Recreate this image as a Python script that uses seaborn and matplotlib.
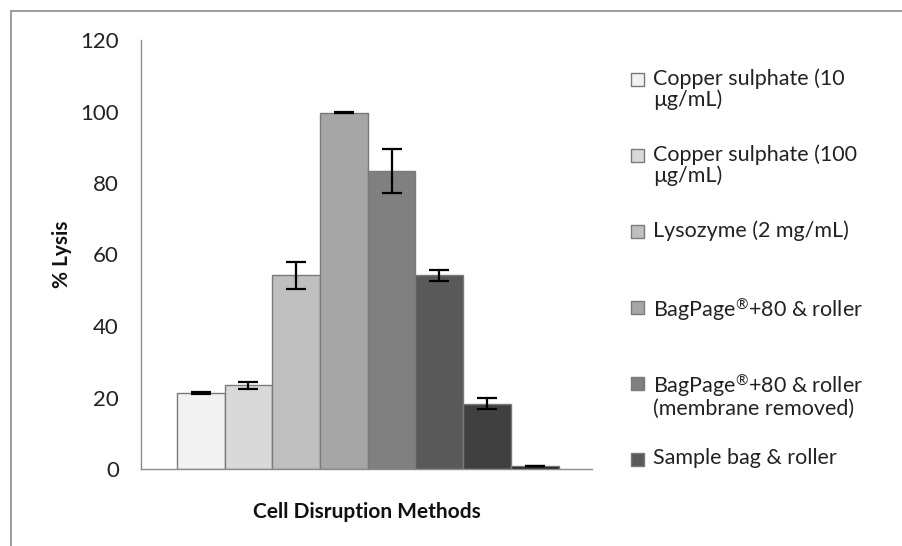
import matplotlib
matplotlib.use("Agg")
from matplotlib import pyplot as plt
from matplotlib.patches import Rectangle
import pandas as pd
import seaborn as sns

# data
positions = [0, 1, 2, 3, 4, 5, 6, 7]
lysis = [21.2, 23.4, 54.2, 99.7, 83.3, 54.2, 18.3, 0.9]
errors = [0.3, 1.0, 3.8, 0.2, 6.1, 1.5, 1.5, 0.0]
legend_labels = ["Copper sulphate (10\nµg/mL)",
                 "Copper sulphate (100\nµg/mL)",
                 "Lysozyme (2 mg/mL)",
                 "BagPage$^{\\mathrm{®}}$+80 & roller",
                 "BagPage$^{\\mathrm{®}}$+80 & roller\n(membrane removed)",
                 "Sample bag & roller"]
bar_colors = ["#F2F2F2", "#D9D9D9", "#BFBFBF", "#A6A6A6",
              "#808080", "#595959", "#404040", "#1A1A1A"]
y_ticks = [0, 20, 40, 60, 80, 100, 120]

df = pd.DataFrame({"pos": positions, "lysis": lysis})

sns.set_theme(style="white")
plt.rcParams["font.family"] = ["Lato", "DejaVu Sans"]
plt.rcParams["mathtext.fontset"] = "custom"
plt.rcParams["mathtext.rm"] = "Lato"
plt.rcParams["mathtext.it"] = "Lato:italic"
plt.rcParams["mathtext.bf"] = "Lato:bold"

W, H = 902, 546
fig = plt.figure(figsize=(9.02, 5.46), dpi=100)
ax = fig.add_axes([141 / W, 1 - 469 / H, (592 - 141) / W, (469 - 40) / H])

sns.barplot(data=df, x="pos", y="lysis", hue="pos", palette=bar_colors,
            width=1.0, dodge=False, legend=False, ax=ax,
            edgecolor="#7A7A7A", linewidth=1.0)
ax.errorbar(positions, lysis, yerr=errors, fmt="none", ecolor="black",
            elinewidth=1.6, capsize=7, capthick=1.6)

ax.set_xlim(-1.25, 8.2)
ax.set_ylim(0, 120)
ax.set_yticks(y_ticks)
ax.set_yticklabels([str(t) for t in y_ticks], fontsize=16, color="#222222")
ax.set_xticks([])
ax.tick_params(axis="y", length=0, pad=16)

ax.set_xlabel("Cell Disruption Methods", fontsize=15, fontweight="bold",
              labelpad=24, color="#111111")
ax.set_ylabel("% Lysis", fontsize=15, fontweight="bold", labelpad=6,
              color="#111111")

sns.despine(ax=ax)
for side in ["left", "bottom"]:
    ax.spines[side].set_color("#8C8C8C")
    ax.spines[side].set_linewidth(1.0)

# legend, Excel-style: entries evenly spaced, handle next to the first line
# (only the first six entries are visible in the original)
for i, label in enumerate(legend_labels):
    yc = 79 + 76 * i
    fig.patches.append(Rectangle((631 / W, 1 - (yc + 7) / H), 13 / W, 13 / H,
                                 transform=fig.transFigure,
                                 facecolor=bar_colors[i], edgecolor="#7A7A7A",
                                 linewidth=1.0))
    fig.text(653 / W, 1 - (yc - 11) / H, label, fontsize=15.5, va="top",
             ha="left", color="#222222", linespacing=1.02)

# outer frame of the picture
fig.patches.append(Rectangle((11 / W, -0.1), 1.2, 0.98 + 0.1,
                             transform=fig.transFigure, fill=False,
                             edgecolor="#8C8C8C", linewidth=1.2))

fig.savefig("out.png", dpi=100)
